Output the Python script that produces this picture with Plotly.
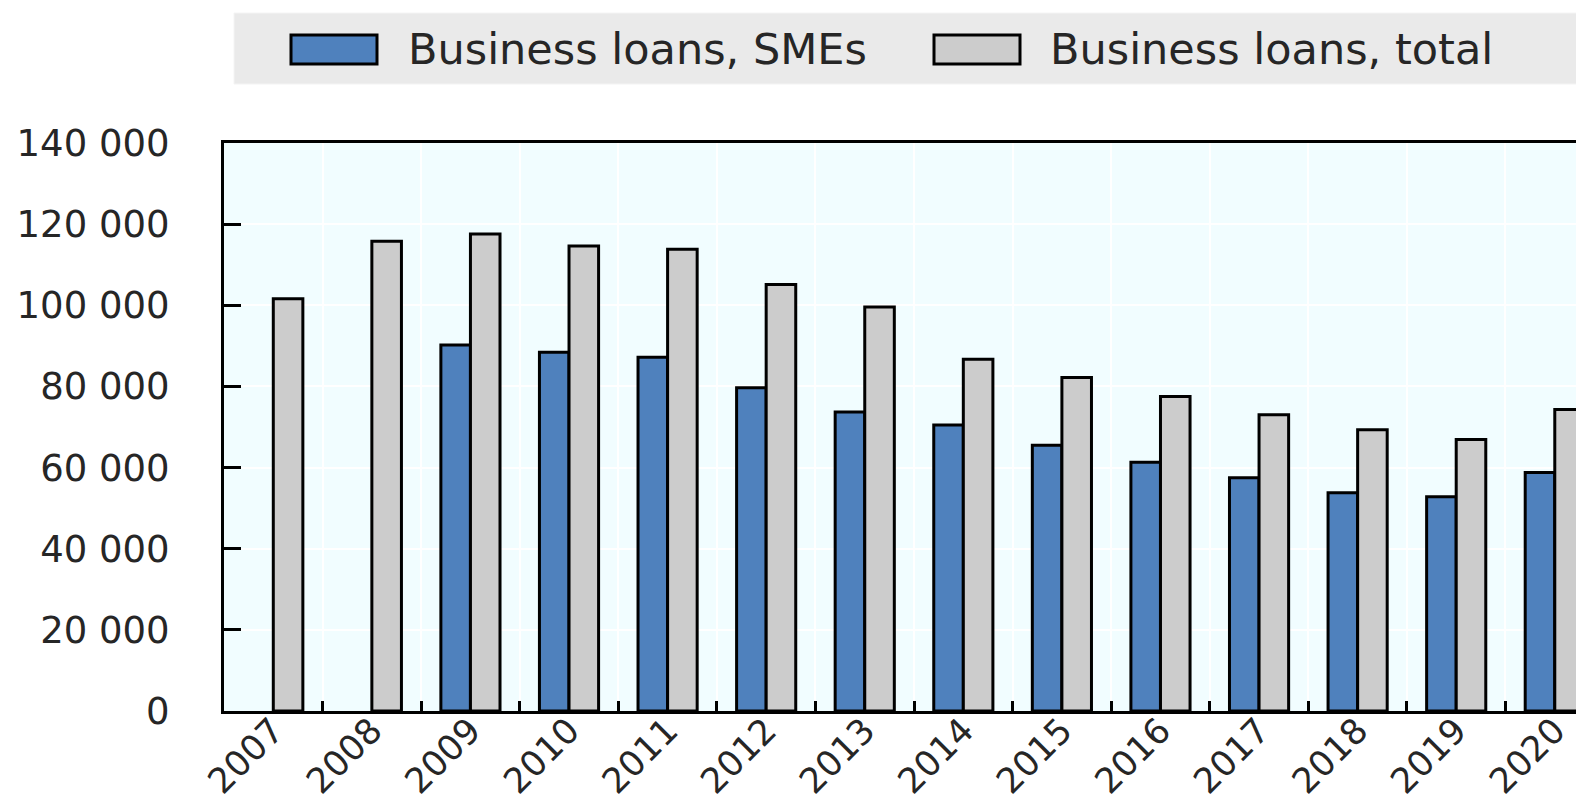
import plotly.graph_objects as go

years = ["2007", "2008", "2009", "2010", "2011", "2012", "2013",
         "2014", "2015", "2016", "2017", "2018", "2019", "2020"]
sme_loans = [None, None, 90200, 88400, 87200, 79700, 73700,
             70500, 65500, 61300, 57500, 53800, 52800, 58800]
total_loans = [101600, 115800, 117600, 114600, 113800, 105100, 99600,
               86700, 82200, 77500, 73000, 69300, 66900, 74300]
series_names = ["Business loans, SMEs", "Business loans, total"]
series_colors = ["#4F81BD", "#CCCCCC"]
y_ticks = [0, 20000, 40000, 60000, 80000, 100000, 120000, 140000]

FONT = "DejaVu Sans"

fig = go.Figure()
for name, vals, col in zip(series_names, [sme_loans, total_loans], series_colors):
    fig.add_trace(go.Bar(
        x=years, y=vals, name=name,
        marker=dict(color=col, line=dict(color="black", width=3)),
        showlegend=False,
    ))

# page has an 8px body margin; geometry below is in page pixels
OFF = 8
W, H = 1584, 794
PL, PT, PB = 224, 143, 711          # plot left/top/bottom in page px
L, T = PL - OFF, PT - OFF
B = H - (PB - OFF)
R = 0
pw, ph = W - L - R, H - T - B

def px(x):
    return (x - OFF - L) / pw

def py(y):
    return (H - B - (y - OFF)) / ph

shapes = [
    dict(type="rect", xref="paper", yref="paper",
         x0=px(234), x1=px(1620), y0=py(84), y1=py(13),
         fillcolor="#EAEAEA", line=dict(color="#F4F4F4", width=1), layer="above"),
]
annotations = []
swatches = [(291, 377, 406), (934, 1020, 1048)]
for (sx0, sx1, tx), name, col in zip(swatches, series_names, series_colors):
    shapes.append(dict(type="rect", xref="paper", yref="paper",
                       x0=px(sx0), x1=px(sx1), y0=py(64), y1=py(35),
                       fillcolor=col, line=dict(color="black", width=3), layer="above"))
    annotations.append(dict(xref="paper", yref="paper", x=px(tx), y=py(49),
                            xanchor="left", yanchor="middle", showarrow=False,
                            text=name, font=dict(family=FONT, size=43, color="#262626")))

fig.update_layout(
    width=W, height=H,
    margin=dict(l=L, r=R, t=T, b=B, pad=0, autoexpand=False),
    paper_bgcolor="white",
    plot_bgcolor="#F1FDFF",
    barmode="group",
    bargap=0.4,
    bargroupgap=0,
    separators=". ",
    font=dict(family=FONT, size=36, color="#262626"),
    shapes=shapes,
    annotations=annotations,
    showlegend=False,
)
fig.update_xaxes(
    type="category",
    automargin=False,
    range=[-0.5, -0.5 + (W - OFF - L) / 98.0],
    tickson="boundaries",
    ticks="inside", ticklen=10, tickwidth=3, tickcolor="black",
    showgrid=True, gridcolor="white", gridwidth=2,
    showline=True, linecolor="black", linewidth=3, mirror=True,
    tickangle=-45,
    ticklabelstandoff=-18,
    tickfont=dict(family=FONT, size=35, color="#262626"),
)
fig.update_yaxes(
    automargin=False,
    range=[0, 140000],
    tickvals=y_ticks,
    tickformat=",d",
    ticks="inside", ticklen=17, tickwidth=3, tickcolor="black",
    showgrid=True, gridcolor="white", gridwidth=2,
    showline=True, linecolor="black", linewidth=3,
    zeroline=False,
    ticklabelstandoff=44,
    tickfont=dict(family=FONT, size=37, color="#262626"),
)

fig.write_html("out.html")
